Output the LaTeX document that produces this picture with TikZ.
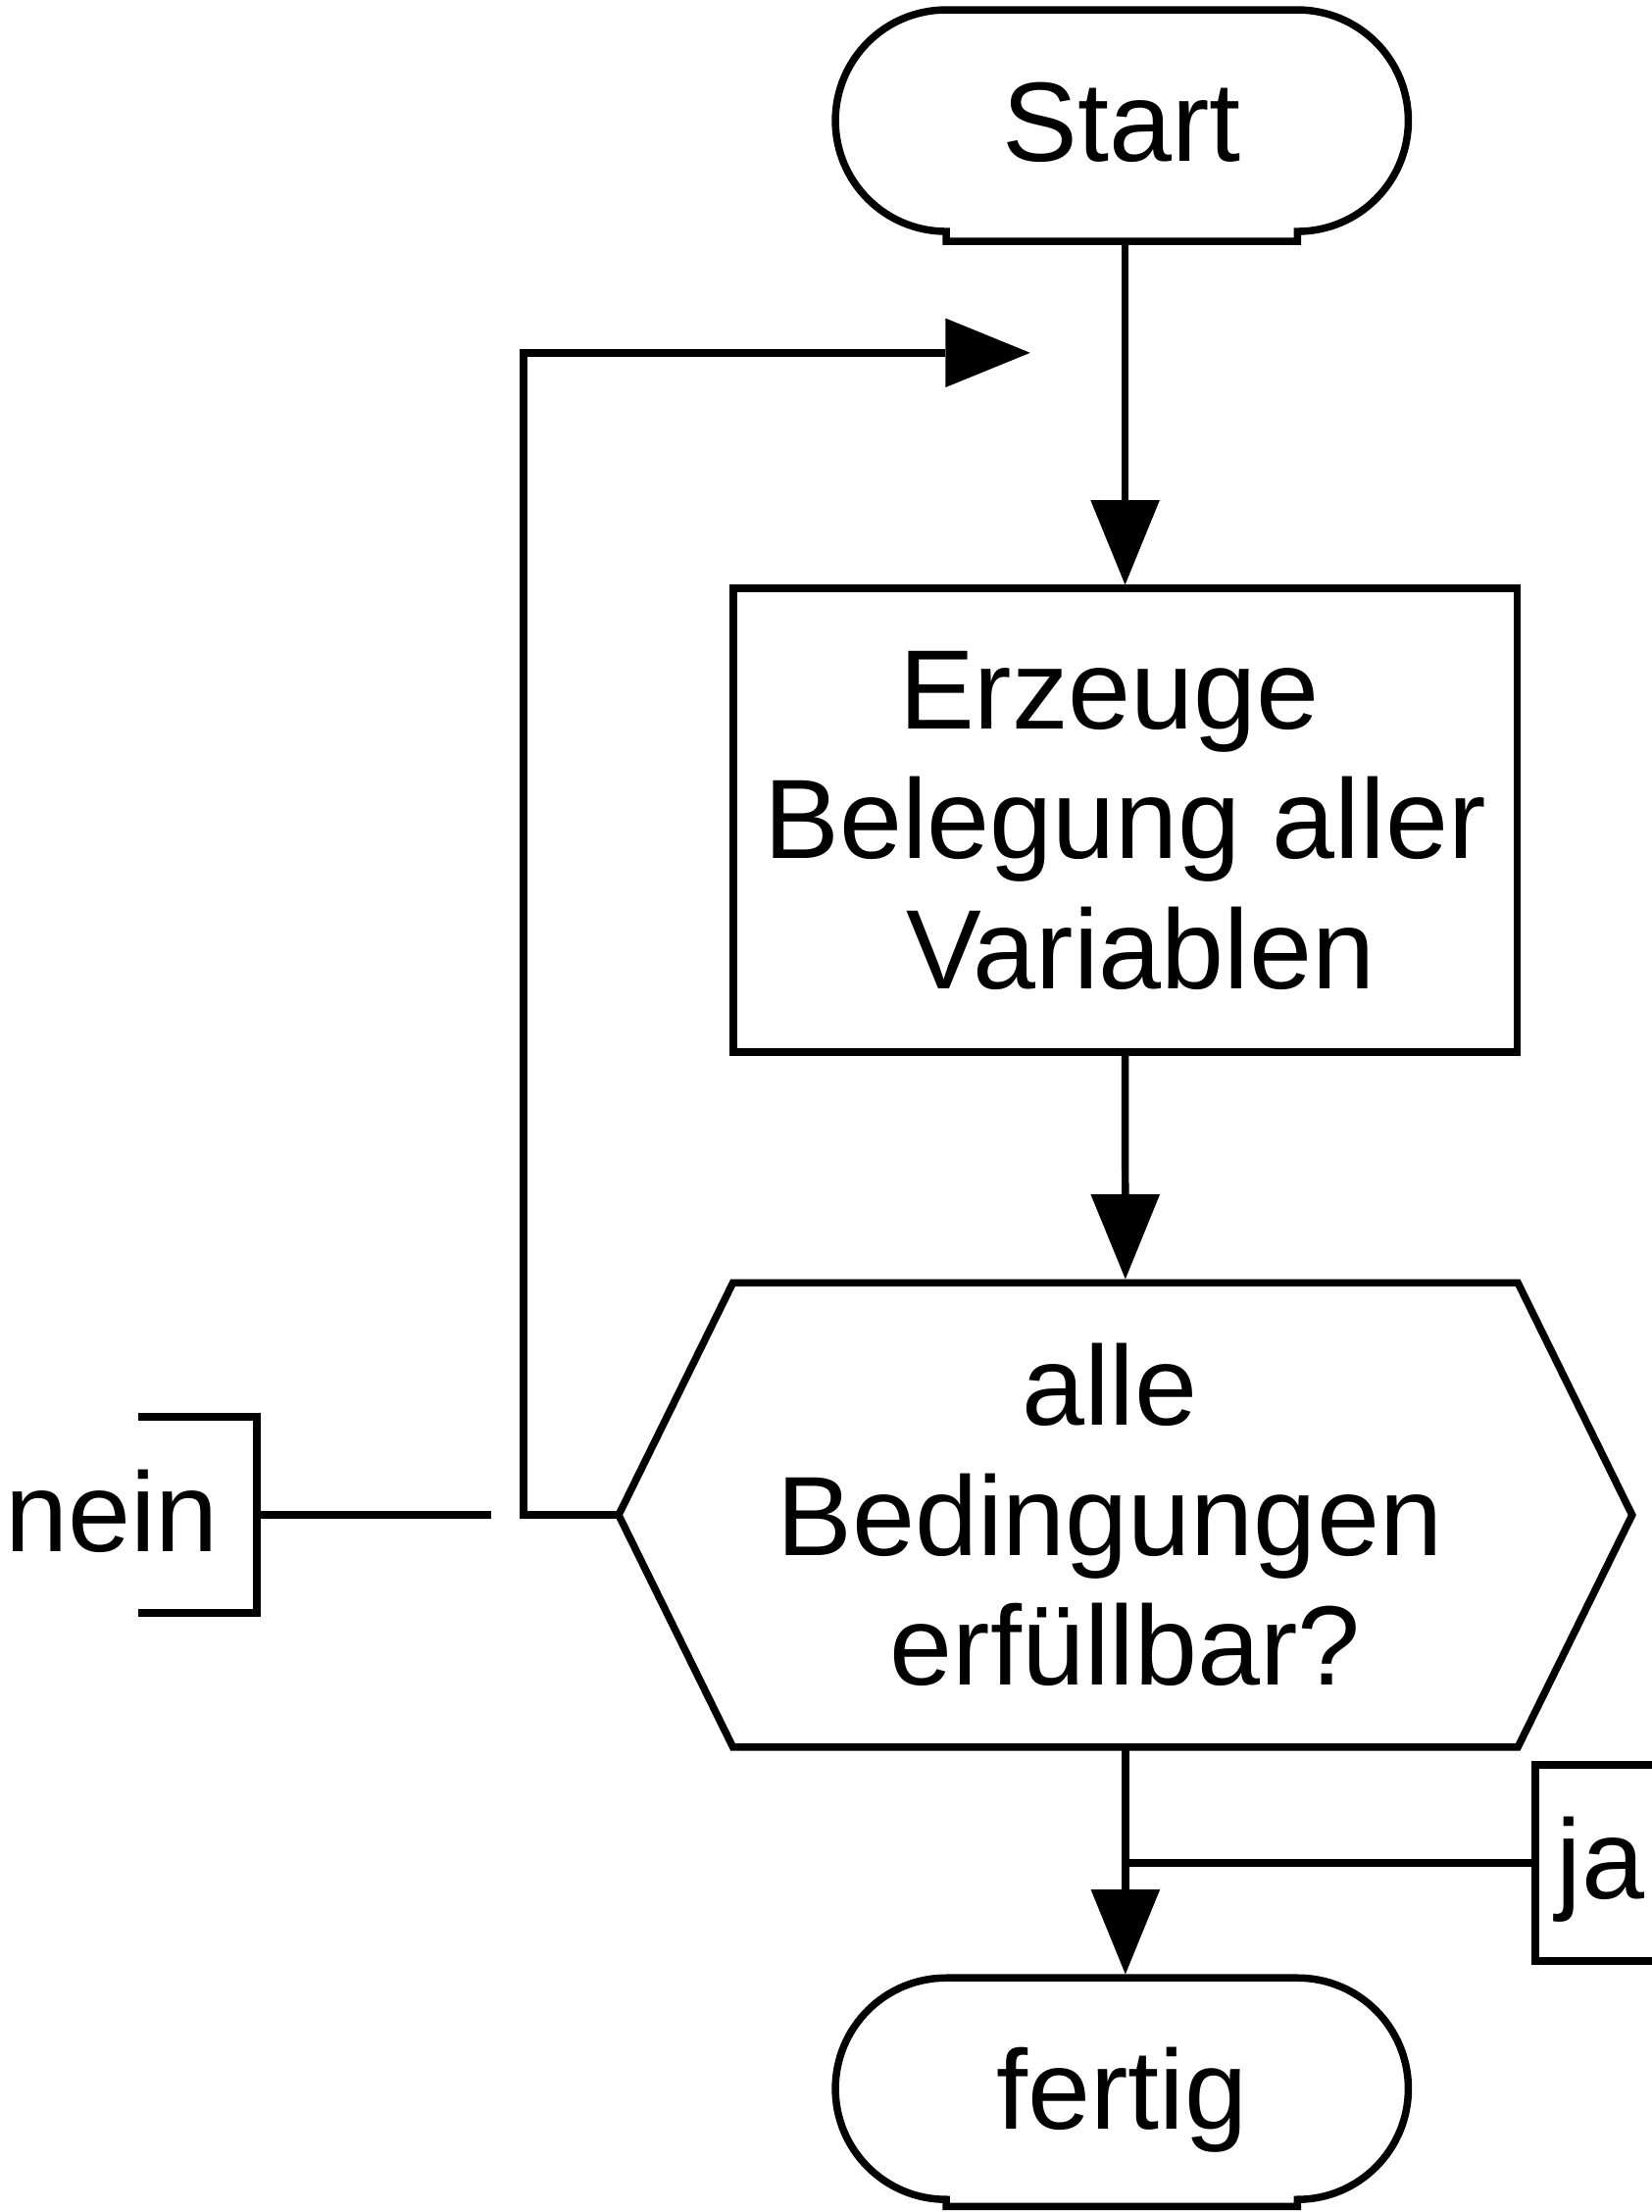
\documentclass[tikz,border=0pt]{standalone}
\usepackage{fontspec}
\setmainfont{Liberation Sans}
\usetikzlibrary{arrows.meta}

\begin{document}
\begin{tikzpicture}[x=0.5pt,y=-0.5pt,line width=2.6pt,
  every node/.style={font=\fontsize{40pt}{46pt}\selectfont,outer sep=0pt},
  flow/.style={-{Triangle[length=30pt,width=24.5pt,line width=0pt]},shorten >=1.3pt},
  term/.style={minimum width=203pt,minimum height=78.5pt,inner sep=0pt,text height=28.8pt,text depth=0pt},
  proc/.style={draw,minimum width=277.75pt,minimum height=164.3pt,inner sep=0pt,align=center},
  decide/.style={minimum width=359.1pt,minimum height=164.55pt,inner sep=0pt,align=center},
  note/.style={minimum width=42.15pt,minimum height=69.5pt,inner sep=0pt},
  label/.style={anchor=base west,inner sep=0pt}]
  \useasboundingbox (0,0) rectangle (1170,1567.4);

  % Nodes
  \node[term] (start) at (795,85.5) {Start};
  \node[proc] (box) at (797.3,581.3) {Erzeuge\kern11.12pt\\Belegung aller\\\kern11.12pt Variablen};
  \node[decide] (test) at (797.5,1073.5) {alle\kern11.12pt\\Bedingungen\kern11.12pt\\erfüllbar?};
  \node[term] (fertig) at (795,1480) {fertig};

  % Terminals
  \draw ([xshift=39.25pt]start.north west) -- ([xshift=-39.25pt]start.north east)
    arc[start angle=90,end angle=-90,radius=39.25pt] -- ++(0,7)
    -| ([xshift=39.25pt]start.south west)
    arc[start angle=270,end angle=90,radius=39.25pt] -- cycle;
  \draw ([xshift=39.25pt]fertig.north west) -- ([xshift=-39.25pt]fertig.north east)
    arc[start angle=90,end angle=-90,radius=39.25pt] -- ++(0,5)
    -| ([xshift=39.25pt]fertig.south west)
    arc[start angle=270,end angle=90,radius=39.25pt] -- cycle;

  % Decision
  \draw (test.west) -- ([xshift=40.5pt]test.north west) -- ([xshift=-40.5pt]test.north east)
    -- (test.east) -- ([xshift=-40.5pt]test.south east) -- ([xshift=40.5pt]test.south west) -- cycle;

  % Flow
  \coordinate (back) at (732.6,250);
  \draw[flow] ([yshift=-3.5pt]box.north |- start.south) -- (box.north);
  \draw[flow] (box.south) -- (test.north);
  \draw[flow] (test.south) -- (test.south |- fertig.north);
  \draw[flow] (test.west) -- ++(-67.4,0) |- (back);

  % Annotations
  \node[note] (neinbox) at (140,1073.5) {};
  \node[note] (jabox) at (1130,1320) {};
  \node[label] (nein) at (3.5,1099.6) {nein};
  \node[label] (ja) at (1103,1345.6) {ja};
  \coordinate (neinend) at (348,1073.5);
  \coordinate (jastart) at (797.5,1320);
  \draw (neinbox.north west) -- (neinbox.north east) -- (neinbox.south east) -- (neinbox.south west);
  \draw (jabox.north east) -- (jabox.north west) -- (jabox.south west) -- (jabox.south east);
  \draw (neinbox.east) -- (neinend);
  \draw (jastart) -- (jabox.west);

\end{tikzpicture}
\end{document}
